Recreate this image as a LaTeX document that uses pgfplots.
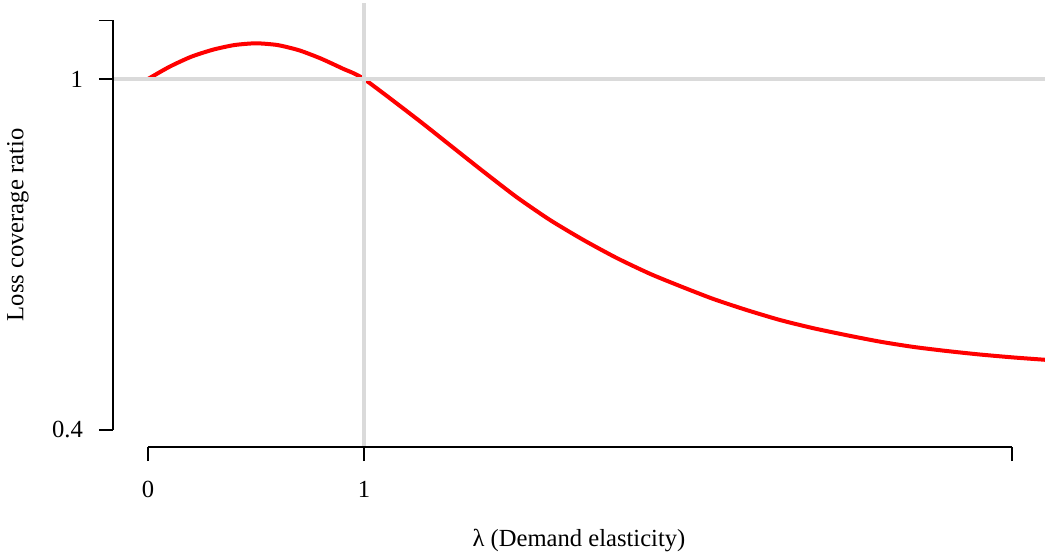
\documentclass[border=0pt]{standalone}
\usepackage{fontspec}
\setmainfont{Liberation Serif}
\usepackage{pgfplots}
\pgfplotsset{compat=1.18}
\definecolor{ablgray}{RGB}{218,218,218}
\begin{document}
\begin{tikzpicture}[font=\fontsize{12.3pt}{14pt}\selectfont]
\useasboundingbox (-56.5pt,-56pt) rectangle (466pt,223.5pt);
\begin{axis}[
    at={(0,0)}, anchor=south west,
    scale only axis,
    width=466pt, height=222pt,
    xmin=-0.162, xmax=4.1528,
    ymin=0.3709, ymax=1.1299,
    clip=false,
    axis x line*=bottom, axis y line*=left,
    axis line style={draw=none},
    tick align=outside,
    major tick length=7pt,
    tick style={black, line width=0.75pt},
    xtick={0,1,4}, xticklabels={0,1,{}},
    ytick={0.4,1,1.1}, yticklabels={0.4,1,{}},
    /pgf/number format/assume math mode=true,
    xticklabel style={anchor=center, yshift=-14pt},
    yticklabel style={anchor=east, xshift=-4.5pt},
    every axis x label/.style={at={([yshift=-46.5pt]axis description cs:0.5,0)}, anchor=center},
    every axis y label/.style={at={([xshift=-47.5pt]axis description cs:0,0.5)}, anchor=center, rotate=90},
    xlabel={λ (Demand elasticity)},
    ylabel={Loss coverage ratio},
  ]
  \addplot[color=red, line width=2pt, smooth, tension=0.4]
    coordinates {
      (0.000,1.000)
      (0.100,1.021)
      (0.200,1.038)
      (0.300,1.050)
      (0.400,1.058)
      (0.500,1.061)
      (0.600,1.058)
      (0.700,1.049)
      (0.800,1.035)
      (0.900,1.018)
      (1.000,1.000)
      (1.244,0.932)
      (1.398,0.887)
      (1.552,0.842)
      (1.707,0.798)
      (1.861,0.759)
      (2.015,0.725)
      (2.170,0.694)
      (2.324,0.667)
      (2.463,0.646)
      (2.617,0.624)
      (2.772,0.605)
      (2.926,0.588)
      (3.080,0.574)
      (3.235,0.562)
      (3.389,0.551)
      (3.543,0.542)
      (3.698,0.535)
      (3.852,0.529)
      (4.006,0.524)
      (4.153,0.520)
    };
  \addplot[color=ablgray, line width=2pt] coordinates {(-0.162,1) (4.1528,1)};
  \addplot[color=ablgray, line width=2pt] coordinates {(1,0.3709) (1,1.1299)};
  \draw[black, line width=0.75pt] (axis cs:0,0.3709) -- (axis cs:4,0.3709);
  \draw[black, line width=0.75pt] (axis cs:-0.162,0.4) -- (axis cs:-0.162,1.1);
\end{axis}
\end{tikzpicture}
\end{document}
